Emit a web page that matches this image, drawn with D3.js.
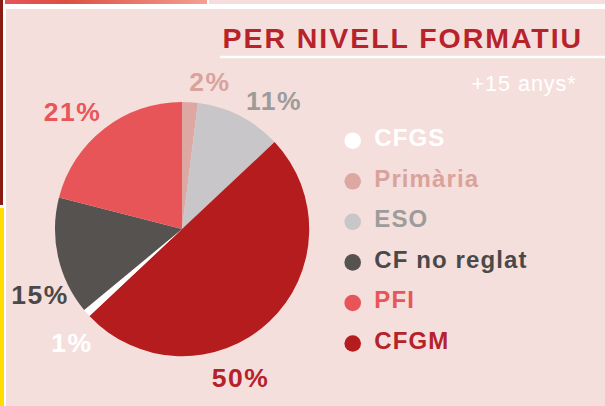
<!DOCTYPE html>
<html>
<head>
<meta charset="utf-8">
<script src="https://cdn.jsdelivr.net/npm/d3@7"></script>
<style>
  html, body { margin: 0; padding: 0; background: #fff; }
  svg { display: block; }
  text { font-family: "Liberation Sans", Arial, sans-serif; }
</style>
</head>
<body>
<svg id="chart"></svg>
<script>
// Chart data (legend order)
const categories = ["CFGS", "Primària", "ESO", "CF no reglat", "PFI", "CFGM"];
const values = [1, 2, 11, 15, 21, 50];
// Order the slices go clockwise from 12 o'clock
const sliceOrder = ["Primària", "ESO", "CFGM", "CFGS", "CF no reglat", "PFI"];

const title = "PER NIVELL FORMATIU";
const subtitle = "+15 anys*";

// Colours per category
const sliceColor = {
  "CFGS": "#ffffff",
  "Primària": "#dca8a1",
  "ESO": "#c8c6c8",
  "CF no reglat": "#55524f",
  "PFI": "#e85558",
  "CFGM": "#b41c1d"
};
const textColor = {
  "CFGS": "#ffffff",
  "Primària": "#d9a39c",
  "ESO": "#9c9c9a",
  "CF no reglat": "#4b4948",
  "PFI": "#e8565a",
  "CFGM": "#b5222a"
};

// Label nudges from the outer centroid (layout only)
const labelNudge = {
  "Primària": [18.6, 11.4],
  "ESO": [23.9, 14.7],
  "CFGM": [-44.2, 48.9],
  "CFGS": [2.5, 24.1],
  "CF no reglat": [4.4, 42.3],
  "PFI": [-17.5, 10.8]
};

const width = 605;
const height = 406;

const svg = d3.select("#chart")
  .attr("width", width)
  .attr("height", height);

// --- page frame ---
const defs = svg.append("defs");
const grad = defs.append("linearGradient").attr("id", "topStrip");
grad.append("stop").attr("offset", "0%").attr("stop-color", "#e6555a");
grad.append("stop").attr("offset", "30%").attr("stop-color", "#db5041");
grad.append("stop").attr("offset", "100%").attr("stop-color", "#f4a093");

svg.append("rect").attr("x", 0).attr("y", 0).attr("width", width).attr("height", height).attr("fill", "#fff");
svg.append("rect").attr("x", 0).attr("y", 0).attr("width", 3).attr("height", 205).attr("fill", "#8c1b14");
svg.append("rect").attr("x", 0).attr("y", 208).attr("width", 4).attr("height", height - 208).attr("fill", "#ffdd00");
svg.append("rect").attr("x", 5).attr("y", 0).attr("width", 202).attr("height", 4).attr("fill", "url(#topStrip)");
svg.append("rect").attr("x", 209).attr("y", 0).attr("width", width - 209).attr("height", 4).attr("fill", "#f5dedc");
svg.append("rect").attr("x", 6).attr("y", 9).attr("width", width - 6).attr("height", height - 9).attr("fill", "#f5dfdd");

// --- title ---
svg.append("text")
  .attr("x", 222.5)
  .attr("y", 47.7)
  .attr("fill", "#b8232b")
  .attr("font-size", 28.5)
  .attr("font-weight", "bold")
  .attr("letter-spacing", 1.95)
  .text(title);

svg.append("rect").attr("x", 220).attr("y", 55.8).attr("width", width - 220).attr("height", 2.4).attr("fill", "#fff");

svg.append("text")
  .attr("x", 471.5)
  .attr("y", 90.7)
  .attr("fill", "#ffffff")
  .attr("font-size", 21.5)
  .attr("letter-spacing", 1.0)
  .text(subtitle);

// --- pie ---
const cx = 182;
const cy = 229;
const radius = 127;

const pieData = sliceOrder.map(name => ({
  name: name,
  value: values[categories.indexOf(name)]
}));

const pie = d3.pie()
  .value(d => d.value)
  .sort(null);

const arc = d3.arc().innerRadius(0).outerRadius(radius);
const labelArc = d3.arc().innerRadius(150).outerRadius(150);

const arcs = pie(pieData);

const pieG = svg.append("g").attr("transform", `translate(${cx},${cy})`);

pieG.selectAll("path.slice")
  .data(arcs)
  .enter()
  .append("path")
  .attr("class", "slice")
  .attr("d", arc)
  .attr("fill", d => sliceColor[d.data.name]);

pieG.selectAll("text.pct")
  .data(arcs)
  .enter()
  .append("text")
  .attr("class", "pct")
  .attr("transform", d => {
    const [x, y] = labelArc.centroid(d);
    const [dx, dy] = labelNudge[d.data.name];
    return `translate(${x + dx},${y + dy})`;
  })
  .attr("text-anchor", "middle")
  .attr("fill", d => textColor[d.data.name])
  .attr("font-size", 26.5)
  .attr("font-weight", "bold")
  .attr("letter-spacing", 1.5)
  .text(d => d.data.value + "%");

// --- legend ---
const legendY = d3.scalePoint()
  .domain(categories)
  .range([140.7, 343.5]);

const legend = svg.append("g");

const item = legend.selectAll("g.item")
  .data(categories)
  .enter()
  .append("g")
  .attr("class", "item")
  .attr("transform", d => `translate(0,${legendY(d)})`);

item.append("circle")
  .attr("cx", 352.7)
  .attr("cy", 0)
  .attr("r", 8.3)
  .attr("fill", d => sliceColor[d]);

item.append("text")
  .attr("x", 374.3)
  .attr("y", 5.5)
  .attr("fill", d => textColor[d])
  .attr("font-size", 24)
  .attr("font-weight", "bold")
  .attr("letter-spacing", 1.1)
  .text(d => d);
</script>
</body>
</html>
